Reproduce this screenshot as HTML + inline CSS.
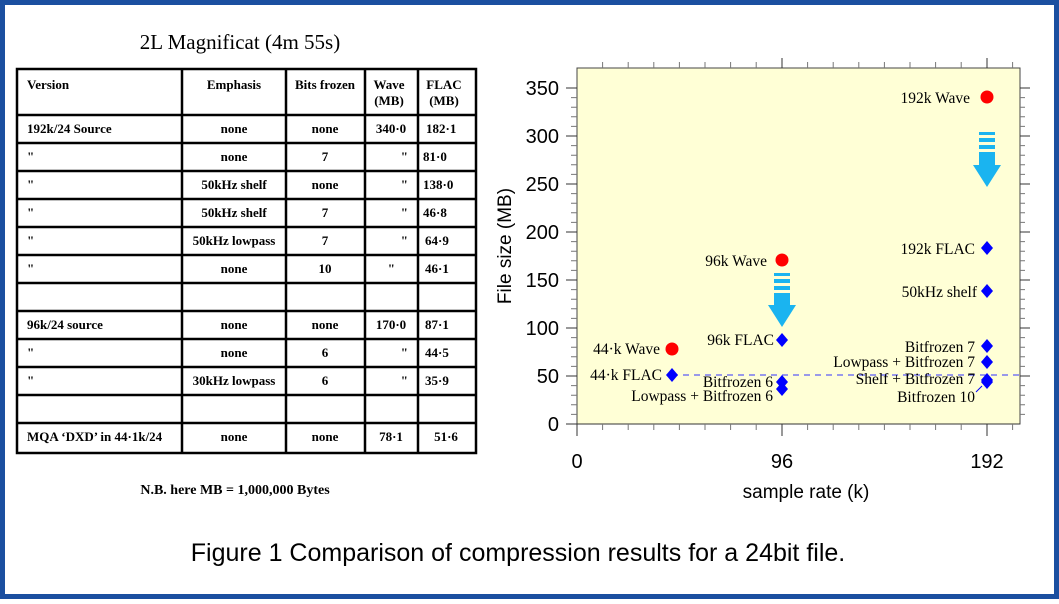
<!DOCTYPE html>
<html><head><style>
body{margin:0;width:1059px;height:599px;overflow:hidden;background:#fff}
.sf{font-family:"Liberation Serif",serif}
.ss{font-family:"Liberation Sans",sans-serif}
</style></head><body>
<svg width="1059" height="599" viewBox="0 0 1059 599" xmlns="http://www.w3.org/2000/svg">
<rect x="2.5" y="2.5" width="1054" height="594" fill="#fff" stroke="#1b4fa0" stroke-width="5"/>
<text class="sf" x="240" y="49" font-size="21" text-anchor="middle">2L Magnificat  (4m 55s)</text>
<g stroke="#000" stroke-width="2.5" fill="none">
<rect x="17" y="69" width="459" height="384"/>
<line x1="182" y1="69" x2="182" y2="453"/><line x1="286" y1="69" x2="286" y2="453"/>
<line x1="365" y1="69" x2="365" y2="453"/><line x1="418" y1="69" x2="418" y2="453"/>
<line x1="17" y1="115" x2="476" y2="115"/><line x1="17" y1="143" x2="476" y2="143"/>
<line x1="17" y1="171" x2="476" y2="171"/><line x1="17" y1="199" x2="476" y2="199"/>
<line x1="17" y1="227" x2="476" y2="227"/><line x1="17" y1="255" x2="476" y2="255"/>
<line x1="17" y1="283" x2="476" y2="283"/><line x1="17" y1="311" x2="476" y2="311"/>
<line x1="17" y1="339" x2="476" y2="339"/><line x1="17" y1="367" x2="476" y2="367"/>
<line x1="17" y1="395" x2="476" y2="395"/><line x1="17" y1="423" x2="476" y2="423"/>
</g>
<g class="sf" font-size="13" font-weight="bold">
<text x="27" y="89">Version</text>
<text x="234" y="89" text-anchor="middle">Emphasis</text>
<text x="325" y="89" text-anchor="middle">Bits frozen</text>
<text x="389" y="89" text-anchor="middle">Wave</text><text x="389" y="105" text-anchor="middle">(MB)</text>
<text x="444" y="89" text-anchor="middle">FLAC</text><text x="444" y="105" text-anchor="middle">(MB)</text>
<text x="27" y="133">192k/24 Source</text><text x="234" y="133" text-anchor="middle">none</text><text x="325" y="133" text-anchor="middle">none</text><text x="391" y="133" text-anchor="middle">340·0</text><text x="426" y="133">182·1</text>
<text x="27" y="161">"</text><text x="234" y="161" text-anchor="middle">none</text><text x="325" y="161" text-anchor="middle">7</text><text x="408" y="161" text-anchor="end">"</text><text x="423" y="161">81·0</text>
<text x="27" y="189">"</text><text x="234" y="189" text-anchor="middle">50kHz shelf</text><text x="325" y="189" text-anchor="middle">none</text><text x="408" y="189" text-anchor="end">"</text><text x="423" y="189">138·0</text>
<text x="27" y="217">"</text><text x="234" y="217" text-anchor="middle">50kHz shelf</text><text x="325" y="217" text-anchor="middle">7</text><text x="408" y="217" text-anchor="end">"</text><text x="423" y="217">46·8</text>
<text x="27" y="245">"</text><text x="234" y="245" text-anchor="middle">50kHz lowpass</text><text x="325" y="245" text-anchor="middle">7</text><text x="408" y="245" text-anchor="end">"</text><text x="425" y="245">64·9</text>
<text x="27" y="273">"</text><text x="234" y="273" text-anchor="middle">none</text><text x="325" y="273" text-anchor="middle">10</text><text x="395" y="273" text-anchor="end">"</text><text x="425" y="273">46·1</text>
<text x="27" y="329">96k/24 source</text><text x="234" y="329" text-anchor="middle">none</text><text x="325" y="329" text-anchor="middle">none</text><text x="391" y="329" text-anchor="middle">170·0</text><text x="425" y="329">87·1</text>
<text x="27" y="357">"</text><text x="234" y="357" text-anchor="middle">none</text><text x="325" y="357" text-anchor="middle">6</text><text x="408" y="357" text-anchor="end">"</text><text x="425" y="357">44·5</text>
<text x="27" y="385">"</text><text x="234" y="385" text-anchor="middle">30kHz lowpass</text><text x="325" y="385" text-anchor="middle">6</text><text x="408" y="385" text-anchor="end">"</text><text x="425" y="385">35·9</text>
<text x="27" y="441">MQA ‘DXD’ in 44·1k/24</text><text x="234" y="441" text-anchor="middle">none</text><text x="325" y="441" text-anchor="middle">none</text><text x="391" y="441" text-anchor="middle">78·1</text><text x="446" y="441" text-anchor="middle">51·6</text>
<text x="235" y="494" font-size="14" text-anchor="middle">N.B. here MB = 1,000,000 Bytes</text>
</g>
<rect x="577" y="68" width="443" height="356" fill="#ffffd6" stroke="#444" stroke-width="1"/>
<g stroke="#333" stroke-width="1">
<line x1="566" y1="424" x2="1020" y2="424"/>
<line x1="577" y1="424" x2="577" y2="436"/><line x1="782" y1="424" x2="782" y2="436"/><line x1="987" y1="424" x2="987" y2="436"/>
<line x1="566" y1="88" x2="577" y2="88"/><line x1="566" y1="136" x2="577" y2="136"/><line x1="566" y1="184" x2="577" y2="184"/><line x1="566" y1="232" x2="577" y2="232"/><line x1="566" y1="280" x2="577" y2="280"/><line x1="566" y1="328" x2="577" y2="328"/><line x1="566" y1="376" x2="577" y2="376"/>
<line x1="1020" y1="88" x2="1030" y2="88"/><line x1="1020" y1="136" x2="1030" y2="136"/><line x1="1020" y1="184" x2="1030" y2="184"/><line x1="1020" y1="232" x2="1030" y2="232"/><line x1="1020" y1="280" x2="1030" y2="280"/><line x1="1020" y1="328" x2="1030" y2="328"/><line x1="1020" y1="376" x2="1030" y2="376"/>
<line x1="782" y1="58" x2="782" y2="68"/><line x1="987" y1="58" x2="987" y2="68"/>
</g>
<g stroke="#777" stroke-width="1">
<path d="M571 97.6h6M571 107.2h6M571 116.8h6M571 126.4h6M571 145.6h6M571 155.2h6M571 164.8h6M571 174.4h6M571 193.6h6M571 203.2h6M571 212.8h6M571 222.4h6M571 241.6h6M571 251.2h6M571 260.8h6M571 270.4h6M571 289.6h6M571 299.2h6M571 308.8h6M571 318.4h6M571 337.6h6M571 347.2h6M571 356.8h6M571 366.4h6M571 385.6h6M571 395.2h6M571 404.8h6M571 414.4h6"/>
<path d="M1020 97.6h5M1020 107.2h5M1020 116.8h5M1020 126.4h5M1020 145.6h5M1020 155.2h5M1020 164.8h5M1020 174.4h5M1020 193.6h5M1020 203.2h5M1020 212.8h5M1020 222.4h5M1020 241.6h5M1020 251.2h5M1020 260.8h5M1020 270.4h5M1020 289.6h5M1020 299.2h5M1020 308.8h5M1020 318.4h5M1020 337.6h5M1020 347.2h5M1020 356.8h5M1020 366.4h5M1020 385.6h5M1020 395.2h5M1020 404.8h5M1020 414.4h5"/>
<path d="M602.6 424v6M628.2 424v6M653.8 424v6M679.4 424v6M705 424v6M730.6 424v6M756.2 424v6M807.6 424v6M833.2 424v6M858.8 424v6M884.4 424v6M910 424v6M935.6 424v6M961.2 424v6M1012.6 424v6"/>
<path d="M602.6 62v6M628.2 62v6M653.8 62v6M679.4 62v6M705 62v6M730.6 62v6M756.2 62v6M807.6 62v6M833.2 62v6M858.8 62v6M884.4 62v6M910 62v6M935.6 62v6M961.2 62v6M1012.6 62v6"/>
</g>
<g class="ss" font-size="20" text-anchor="end" fill="#000">
<text x="559" y="95">350</text><text x="559" y="143">300</text><text x="559" y="191">250</text><text x="559" y="239">200</text><text x="559" y="287">150</text><text x="559" y="335">100</text><text x="559" y="383">50</text><text x="559" y="431">0</text>
<text x="577" y="468" text-anchor="middle">0</text><text x="782" y="468" text-anchor="middle">96</text><text x="987" y="468" text-anchor="middle">192</text>
<text x="806" y="498" text-anchor="middle" font-size="19">sample rate (k)</text>
<text transform="translate(511 246) rotate(-90)" text-anchor="middle" font-size="19">File size (MB)</text>
<text x="518" y="561" text-anchor="middle" font-size="25">Figure 1  Comparison of compression results for a 24bit file.</text>
</g>
<line x1="672" y1="375" x2="1020" y2="375" stroke="#33f" stroke-dasharray="6,5" stroke-width="1"/>
<g fill="#f00"><circle cx="987" cy="97" r="6.5"/><circle cx="782" cy="260" r="6.5"/><circle cx="672" cy="349" r="6.5"/></g>
<g fill="#00f">
<path d="M987 241l6 7-6 7-6-7z"/><path d="M987 284l6 7-6 7-6-7z"/><path d="M987 339l6 7-6 7-6-7z"/><path d="M987 355l6 7-6 7-6-7z"/><path d="M987 373l6 7-6 7-6-7z"/><path d="M987 375l6 7-6 7-6-7z"/>
<path d="M782 333l6 7-6 7-6-7z"/><path d="M782 375l6 7-6 7-6-7z"/><path d="M782 382l6 7-6 7-6-7z"/><path d="M672 368l6 7-6 7-6-7z"/>
</g>
<line x1="976" y1="392" x2="982" y2="386" stroke="#00f"/>
<g fill="#1ab4f0">
<rect x="979" y="132" width="16" height="3"/><rect x="979" y="138" width="16" height="4"/><rect x="979" y="145" width="16" height="4"/><rect x="979" y="152" width="16" height="13"/>
<path d="M973 165h28l-14 22z"/>
<rect x="774" y="273" width="16" height="3"/><rect x="774" y="279" width="16" height="4"/><rect x="774" y="286" width="16" height="4"/><rect x="774" y="293" width="16" height="12"/>
<path d="M768 305h28l-14 22z"/>
</g>
<g class="sf" font-size="15.5" text-anchor="end">
<text x="970" y="103">192k Wave</text><text x="767" y="266">96k Wave</text><text x="660" y="354">44·k Wave</text>
<text x="662" y="380">44·k FLAC</text><text x="774" y="345">96k FLAC</text>
<text x="773" y="387">Bitfrozen 6</text><text x="773" y="401">Lowpass + Bitfrozen 6</text>
<text x="975" y="254">192k FLAC</text><text x="977" y="297">50kHz shelf</text>
<text x="975" y="352">Bitfrozen 7</text><text x="975" y="367">Lowpass + Bitfrozen 7</text><text x="975" y="384">Shelf + Bitfrozen 7</text><text x="975" y="402">Bitfrozen 10</text>
</g>
</svg>
</body></html>
